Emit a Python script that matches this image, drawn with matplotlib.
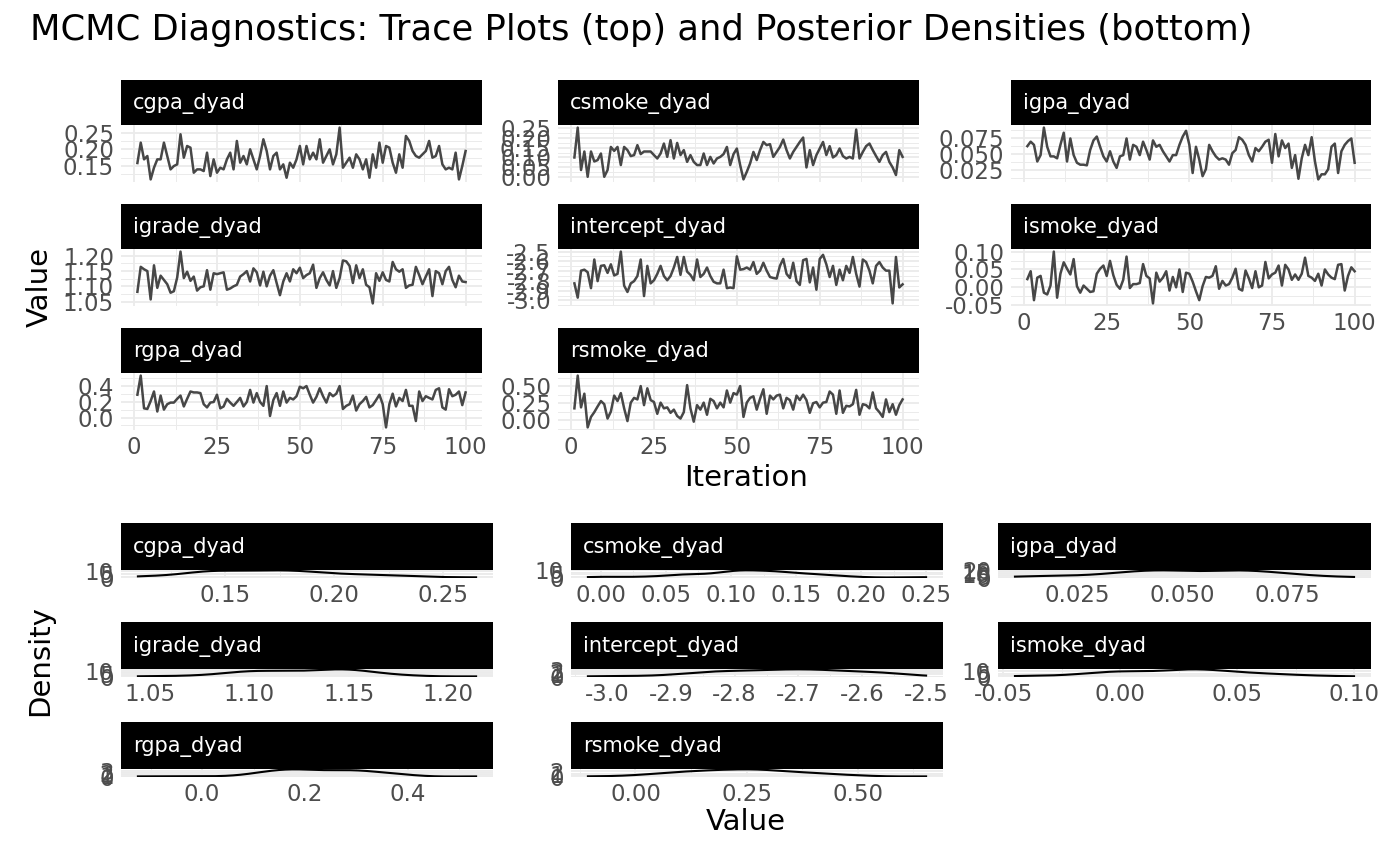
import numpy as np
import matplotlib
matplotlib.use("Agg")
import matplotlib.pyplot as plt
from matplotlib.ticker import FixedLocator, MaxNLocator, NullFormatter

# ---------------- data ----------------
iterations = list(range(1, 101))

cgpa_dyad = [0.159, 0.22, 0.17, 0.18, 0.11, 0.145, 0.17, 0.17, 0.22, 0.18,
             0.14, 0.15, 0.155, 0.245, 0.175, 0.21, 0.205, 0.13, 0.14, 0.14,
             0.135, 0.19, 0.12, 0.17, 0.13, 0.145, 0.14, 0.17, 0.19, 0.14,
             0.225, 0.16, 0.18, 0.155, 0.20, 0.17, 0.14, 0.18, 0.23, 0.195,
             0.14, 0.18, 0.19, 0.14, 0.155, 0.115, 0.16, 0.145, 0.17, 0.21,
             0.155, 0.21, 0.17, 0.19, 0.17, 0.23, 0.16, 0.18, 0.20, 0.155,
             0.185, 0.265, 0.145, 0.16, 0.175, 0.145, 0.185, 0.17, 0.14, 0.17,
             0.115, 0.185, 0.145, 0.22, 0.16, 0.21, 0.205, 0.16, 0.13, 0.185,
             0.145, 0.24, 0.225, 0.195, 0.18, 0.175, 0.185, 0.195, 0.225, 0.175,
             0.18, 0.21, 0.155, 0.14, 0.145, 0.14, 0.19, 0.11, 0.15, 0.195]

csmoke_dyad = [0.10, 0.25, 0.037, 0.13, 0.003, 0.13, 0.08, 0.087, 0.12, 0.003,
               0.037, 0.153, 0.133, 0.153, 0.062, 0.153, 0.137, 0.107, 0.112, 0.162,
               0.117, 0.13, 0.13, 0.13, 0.112, 0.095, 0.12, 0.17, 0.103, 0.187,
               0.095, 0.173, 0.112, 0.137, 0.078, 0.112, 0.078, 0.062, 0.062, 0.12,
               0.062, 0.103, 0.07, 0.095, 0.103, 0.117, 0.153, 0.062, 0.117, 0.145,
               0.062, -0.01, 0.028, 0.07, 0.128, 0.087, 0.137, 0.178, 0.162, 0.167,
               0.103, 0.128, 0.153, 0.19, 0.137, 0.095, 0.128, 0.153, 0.178, 0.20,
               0.05, 0.137, 0.062, 0.112, 0.145, 0.178, 0.112, 0.157, 0.10, 0.112,
               0.145, 0.107, 0.095, 0.103, 0.095, 0.24, 0.095, 0.128, 0.157, 0.17,
               0.137, 0.107, 0.078, 0.112, 0.128, 0.078, 0.05, 0.012, 0.137, 0.103]

igpa_dyad = [0.062, 0.069, 0.064, 0.038, 0.048, 0.091, 0.061, 0.046, 0.046, 0.043,
             0.064, 0.083, 0.038, 0.074, 0.048, 0.036, 0.033, 0.033, 0.032, 0.056,
             0.071, 0.077, 0.061, 0.046, 0.038, 0.054, 0.038, 0.028, 0.046, 0.048,
             0.074, 0.041, 0.064, 0.061, 0.048, 0.069, 0.056, 0.041, 0.071, 0.061,
             0.064, 0.054, 0.046, 0.038, 0.048, 0.048, 0.064, 0.077, 0.086, 0.064,
             0.020, 0.061, 0.041, 0.015, 0.026, 0.064, 0.054, 0.046, 0.041, 0.043,
             0.041, 0.033, 0.051, 0.056, 0.076, 0.072, 0.064, 0.048, 0.038, 0.059,
             0.054, 0.061, 0.069, 0.072, 0.036, 0.081, 0.046, 0.071, 0.059, 0.066,
             0.028, 0.048, 0.011, 0.043, 0.064, 0.048, 0.076, 0.038, 0.010, 0.018,
             0.018, 0.026, 0.061, 0.066, 0.020, 0.054, 0.064, 0.070, 0.074, 0.036]

igrade_dyad = [1.082, 1.164, 1.156, 1.150, 1.057, 1.169, 1.095, 1.135, 1.121, 1.107,
               1.079, 1.084, 1.129, 1.214, 1.127, 1.148, 1.118, 1.132, 1.086, 1.097,
               1.100, 1.153, 1.089, 1.143, 1.140, 1.143, 1.146, 1.089, 1.093, 1.100,
               1.105, 1.132, 1.140, 1.150, 1.116, 1.159, 1.146, 1.103, 1.148, 1.100,
               1.135, 1.153, 1.111, 1.071, 1.116, 1.143, 1.116, 1.156, 1.143, 1.161,
               1.127, 1.137, 1.143, 1.171, 1.095, 1.127, 1.146, 1.121, 1.103, 1.150,
               1.095, 1.127, 1.185, 1.182, 1.167, 1.111, 1.169, 1.127, 1.156, 1.105,
               1.097, 1.044, 1.143, 1.118, 1.146, 1.121, 1.116, 1.180, 1.156, 1.148,
               1.156, 1.095, 1.103, 1.105, 1.164, 1.137, 1.107, 1.132, 1.156, 1.068,
               1.150, 1.143, 1.107, 1.150, 1.164, 1.121, 1.097, 1.135, 1.116, 1.114]

intercept_dyad = [-2.825, -2.971, -2.695, -2.685, -2.711, -2.874, -2.581, -2.802, -2.646, -2.640,
                  -2.718, -2.630, -2.744, -2.728, -2.500, -2.848, -2.913, -2.825, -2.802, -2.750,
                  -2.581, -2.955, -2.646, -2.825, -2.793, -2.728, -2.646, -2.750, -2.793, -2.750,
                  -2.663, -2.555, -2.738, -2.555, -2.705, -2.738, -2.793, -2.581, -2.760, -2.728,
                  -2.663, -2.750, -2.809, -2.825, -2.825, -2.685, -2.874, -2.867, -2.874, -2.549,
                  -2.685, -2.679, -2.663, -2.685, -2.607, -2.728, -2.695, -2.614, -2.695, -2.760,
                  -2.770, -2.776, -2.646, -2.575, -2.728, -2.770, -2.614, -2.802, -2.841, -2.588,
                  -2.575, -2.815, -2.663, -2.890, -2.575, -2.533, -2.630, -2.760, -2.646, -2.841,
                  -2.685, -2.793, -2.646, -2.718, -2.555, -2.728, -2.858, -2.581, -2.607, -2.695,
                  -2.825, -2.646, -2.607, -2.663, -2.695, -2.695, -3.030, -2.555, -2.867, -2.835]

ismoke_dyad = [0.023, 0.045, -0.036, 0.027, 0.032, -0.015, -0.020, 0.005, 0.100, -0.029,
               0.038, 0.070, 0.052, 0.036, 0.079, 0.003, -0.015, 0.005, -0.004, -0.013,
               -0.011, 0.038, 0.052, 0.061, 0.032, 0.074, 0.034, 0.007, -0.004, 0.021,
               0.086, -0.002, 0.009, 0.009, 0.012, 0.065, 0.032, 0.025, -0.045, 0.041,
               0.016, 0.027, 0.045, -0.009, 0.029, 0.000, 0.050, -0.013, 0.041, 0.038,
               0.016, -0.011, -0.036, 0.003, 0.029, 0.027, 0.032, 0.059, -0.004, 0.018,
               0.005, 0.009, 0.027, 0.052, -0.004, -0.009, 0.047, 0.025, -0.002, 0.045,
               0.000, 0.005, 0.071, 0.025, 0.036, 0.041, 0.061, 0.005, 0.063, 0.050,
               0.021, 0.036, 0.021, 0.038, 0.083, 0.032, 0.027, 0.018, 0.038, 0.005,
               0.050, 0.036, 0.027, 0.023, 0.063, 0.065, -0.009, 0.032, 0.056, 0.045]

rgpa_dyad = [0.290, 0.533, 0.117, 0.109, 0.210, 0.331, 0.077, 0.279, 0.101, 0.170,
             0.190, 0.190, 0.238, 0.279, 0.141, 0.238, 0.331, 0.319, 0.319, 0.311,
             0.170, 0.129, 0.190, 0.198, 0.290, 0.117, 0.141, 0.238, 0.190, 0.149,
             0.198, 0.250, 0.141, 0.198, 0.351, 0.190, 0.311, 0.198, 0.149, 0.400,
             0.020, 0.222, 0.311, 0.149, 0.331, 0.190, 0.250, 0.230, 0.271, 0.392,
             0.372, 0.400, 0.290, 0.190, 0.263, 0.372, 0.271, 0.190, 0.311, 0.271,
             0.303, 0.400, 0.109, 0.149, 0.170, 0.279, 0.089, 0.170, 0.210, 0.263,
             0.129, 0.158, 0.222, 0.290, 0.170, -0.125, 0.170, 0.303, 0.141, 0.250,
             0.210, 0.351, 0.149, 0.149, -0.044, 0.331, 0.210, 0.271, 0.250, 0.230,
             0.351, 0.372, 0.129, 0.101, 0.360, 0.271, 0.290, 0.331, 0.158, 0.319]

rsmoke_dyad = [0.173, 0.654, 0.187, 0.388, -0.107, 0.047, 0.117, 0.201, 0.280, 0.234,
               0.023, 0.126, 0.360, 0.280, 0.397, 0.173, -0.014, 0.257, 0.327, 0.304,
               0.500, 0.220, 0.467, 0.294, 0.266, 0.093, 0.257, 0.173, 0.187, 0.107,
               0.154, 0.061, 0.023, 0.117, 0.514, 0.173, -0.023, 0.220, 0.154, 0.257,
               0.079, 0.313, 0.280, 0.173, 0.257, 0.187, 0.435, 0.257, 0.397, 0.374,
               0.500, 0.047, 0.257, 0.327, 0.350, 0.154, 0.313, 0.453, 0.093, 0.360,
               0.304, 0.360, 0.374, 0.173, 0.327, 0.294, 0.154, 0.360, 0.294, 0.374,
               0.294, 0.107, 0.248, 0.266, 0.187, 0.257, 0.266, 0.420, 0.374, 0.093,
               0.435, 0.107, 0.210, 0.201, 0.234, 0.444, 0.079, 0.234, 0.220, 0.173,
               0.407, 0.173, 0.117, 0.047, 0.304, 0.117, 0.234, 0.079, 0.220, 0.304]

param_names = ["cgpa_dyad", "csmoke_dyad", "igpa_dyad", "igrade_dyad",
               "intercept_dyad", "ismoke_dyad", "rgpa_dyad", "rsmoke_dyad"]
series = [cgpa_dyad, csmoke_dyad, igpa_dyad, igrade_dyad,
          intercept_dyad, ismoke_dyad, rgpa_dyad, rsmoke_dyad]

value_ticks = [
    [0.15, 0.20, 0.25],
    [0.00, 0.05, 0.10, 0.15, 0.20, 0.25],
    [0.025, 0.050, 0.075],
    [1.05, 1.10, 1.15, 1.20],
    [-3.0, -2.9, -2.8, -2.7, -2.6, -2.5],
    [-0.05, 0.00, 0.05, 0.10],
    [0.0, 0.2, 0.4],
    [0.00, 0.25, 0.50],
]
value_fmt = ["%.2f", "%.2f", "%.3f", "%.2f", "%.1f", "%.2f", "%.1f", "%.2f"]
iter_ticks = [0, 25, 50, 75, 100]

title = "MCMC Diagnostics: Trace Plots (top) and Posterior Densities (bottom)"

# ---------------- layout helpers ----------------
W, H = 1400, 866
fig = plt.figure(figsize=(14, 8.66), dpi=100)
fig.patch.set_facecolor("white")

GRID = "#ebebeb"
TXT = "#4d4d4d"
TICK_FS = 16.5
STRIP_FS = 15
AXTITLE_FS = 21
TITLE_FS = 25.4


def add_ax(x0, y0, x1, y1):
    return fig.add_axes([x0 / W, 1 - y1 / H, (x1 - x0) / W, (y1 - y0) / H])


def minor_from(major):
    step = major[1] - major[0]
    m = [major[0] - step / 2] + [t + step / 2 for t in major]
    return m


def style_panel(ax, xt, yt, show_x, yfmt, xfmt=None):
    ax.set_facecolor("white")
    for s in ax.spines.values():
        s.set_visible(False)
    ax.xaxis.set_major_locator(FixedLocator(xt))
    ax.yaxis.set_major_locator(FixedLocator(yt))
    ax.xaxis.set_minor_locator(FixedLocator(minor_from(xt)))
    ax.yaxis.set_minor_locator(FixedLocator(minor_from(yt)))
    ax.grid(which="major", color=GRID, lw=1.3, zorder=0)
    ax.grid(which="minor", color=GRID, lw=0.7, zorder=0)
    ax.set_axisbelow(True)
    ax.tick_params(which="both", length=0, labelsize=TICK_FS, labelcolor=TXT)
    ax.tick_params(axis="y", pad=5)
    ax.tick_params(axis="x", pad=4)
    if yfmt is None:
        ax.set_yticklabels([("%g" % t) for t in yt])
    else:
        ax.set_yticklabels([yfmt % t for t in yt])
    if show_x:
        if xfmt is None:
            ax.set_xticklabels([("%g" % t) for t in xt])
        else:
            ax.set_xticklabels([xfmt % t for t in xt])
    else:
        ax.xaxis.set_major_formatter(NullFormatter())


def add_strip(x0, y0, x1, y1, label):
    sax = add_ax(x0, y0, x1, y1)
    sax.set_facecolor("black")
    for s in sax.spines.values():
        s.set_visible(False)
    sax.set_xticks([])
    sax.set_yticks([])
    sax.text(12 / (x1 - x0), 0.47, label, color="white", fontsize=STRIP_FS,
             ha="left", va="center", transform=sax.transAxes)


def bw_nrd0(x):
    x = np.asarray(x, float)
    sd = np.std(x, ddof=1)
    q75, q25 = np.percentile(x, [75, 25])
    lo = min(sd, (q75 - q25) / 1.34)
    if lo <= 0:
        lo = sd
    return 0.9 * lo * len(x) ** (-0.2)


def kde(x):
    x = np.asarray(x, float)
    bw = bw_nrd0(x)
    grid = np.linspace(x.min(), x.max(), 512)
    d = np.exp(-0.5 * ((grid[:, None] - x[None, :]) / bw) ** 2).sum(axis=1)
    d /= (len(x) * bw * np.sqrt(2 * np.pi))
    return grid, d


# ---------------- title ----------------
fig.text(30 / W, 1 - 30 / H, title, fontsize=TITLE_FS, ha="left", va="center", color="black")

# ---------------- trace plots ----------------
top_cols = [(121, 482), (558, 919), (1011, 1371)]
top_rows = [80, 204, 328]
STRIP_H = 45
PANEL_H = 57

for i, (name, vals) in enumerate(zip(param_names, series)):
    r, c = divmod(i, 3)
    x0, x1 = top_cols[c]
    ys = top_rows[r]
    add_strip(x0, ys, x1, ys + STRIP_H, name)
    ax = add_ax(x0, ys + STRIP_H, x1, ys + STRIP_H + PANEL_H)
    ax.plot(iterations, vals, color="#474747", lw=1.8, zorder=3)
    show_x = (r == 2) or (r == 1 and c == 2)
    style_panel(ax, iter_ticks, value_ticks[i], show_x, value_fmt[i])
    ax.set_xlim(1 - 0.05 * 99, 100 + 0.05 * 99)
    vmin, vmax = min(vals), max(vals)
    pad = 0.05 * (vmax - vmin)
    ax.set_ylim(vmin - pad, vmax + pad)

fig.text(40 / W, 1 - 287 / H, "Value", rotation=90, fontsize=AXTITLE_FS, ha="center", va="center")
fig.text(746 / W, 1 - 478 / H, "Iteration", fontsize=AXTITLE_FS, ha="center", va="center")

# ---------------- density plots ----------------
bot_cols = [(121, 493), (571, 943), (998, 1371)]
bot_rows = [523, 622, 722]
DSTRIP_H = 47
DPANEL_H = 8

for i, (name, vals) in enumerate(zip(param_names, series)):
    r, c = divmod(i, 3)
    x0, x1 = bot_cols[c]
    ys = bot_rows[r]
    add_strip(x0, ys, x1, ys + DSTRIP_H, name)
    ax = add_ax(x0, ys + DSTRIP_H, x1, ys + DSTRIP_H + DPANEL_H)
    gx, gd = kde(vals)
    ax.plot(gx, gd, color="black", lw=1.5, zorder=3)
    dmax = gd.max()
    yt = list(MaxNLocator(nbins=4, steps=[1, 2, 5, 10]).tick_values(0, dmax))
    yt = [t for t in yt if 0 <= t <= dmax * 1.05]
    style_panel(ax, value_ticks[i], yt, True, None, value_fmt[i])
    vmin, vmax = min(vals), max(vals)
    pad = 0.05 * (vmax - vmin)
    ax.set_xlim(vmin - pad, vmax + pad)
    ax.set_ylim(-0.05 * dmax, dmax * 1.05)

fig.text(40 / W, 1 - 660 / H, "Density", rotation=90, fontsize=AXTITLE_FS, ha="center", va="center")
fig.text(746 / W, 1 - 822 / H, "Value", fontsize=AXTITLE_FS, ha="center", va="center")

fig.savefig("out.png", dpi=100, facecolor="white")
